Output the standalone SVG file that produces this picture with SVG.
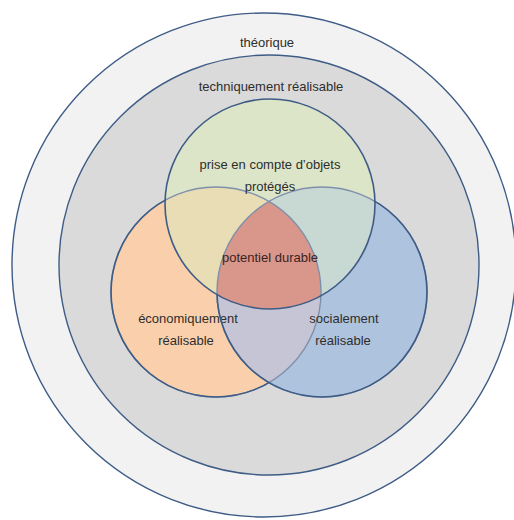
<svg xmlns="http://www.w3.org/2000/svg" width="514" height="520" viewBox="0 0 514 520">
<style>
.ring{stroke:#3e5c86;stroke-width:1.4}
.t{font-family:"Liberation Sans",Arial,sans-serif;font-size:13px;fill:#2e2e2e;text-anchor:middle}
.dk{fill:none;stroke:#3e5c86;stroke-width:1.6}
.fd{fill:none;stroke:#7e90aa;stroke-width:1.4}
</style>
<defs>
<clipPath id="cO"><circle cx="216" cy="292" r="105"/></clipPath>
<clipPath id="cB"><circle cx="322" cy="292" r="105"/></clipPath>
<clipPath id="cG"><circle cx="270" cy="204" r="105"/></clipPath>
<mask id="mO" maskUnits="userSpaceOnUse" x="0" y="0" width="514" height="520">
<rect width="514" height="520" fill="#fff"/>
<circle cx="322" cy="292" r="105" fill="#000"/>
<circle cx="270" cy="204" r="105" fill="#000"/>
</mask>
<mask id="mB" maskUnits="userSpaceOnUse" x="0" y="0" width="514" height="520">
<rect width="514" height="520" fill="#fff"/>
<circle cx="270" cy="204" r="105" fill="#000"/>
</mask>
</defs>
<rect width="514" height="520" fill="#fff"/>
<g id="theorique">
<circle class="ring" cx="264" cy="265" r="252" fill="#f2f2f2"/>
<text class="t" x="267" y="47">théorique</text>
</g>
<g id="techniquement">
<circle class="ring" cx="269" cy="265" r="210" fill="#dadada"/>
<text class="t" x="271" y="91">techniquement réalisable</text>
</g>
<g id="fills">
<circle cx="216" cy="292" r="105" fill="#f9d0ab"/>
<circle cx="322" cy="292" r="105" fill="#aec3de"/>
<circle cx="270" cy="204" r="105" fill="#dce5c8"/>
<circle cx="216" cy="292" r="105" fill="#c6c5d6" clip-path="url(#cB)"/>
<circle cx="216" cy="292" r="105" fill="#e8ddb5" clip-path="url(#cG)"/>
<circle cx="322" cy="292" r="105" fill="#c7d9d2" clip-path="url(#cG)"/>
<g clip-path="url(#cB)"><circle cx="216" cy="292" r="105" fill="#d9968a" clip-path="url(#cG)"/></g>
</g>
<g id="economiquement">
<circle class="fd" cx="216" cy="292" r="105"/>
<circle class="dk" cx="216" cy="292" r="105" mask="url(#mO)"/>
<text class="t" x="188" y="323">économiquement</text>
<text class="t" x="186" y="345">réalisable</text>
</g>
<g id="socialement">
<circle class="fd" cx="322" cy="292" r="105"/>
<circle class="dk" cx="322" cy="292" r="105" mask="url(#mB)"/>
<text class="t" x="344" y="323">socialement</text>
<text class="t" x="343" y="345">réalisable</text>
</g>
<g id="objets-proteges">
<circle class="dk" cx="270" cy="204" r="105"/>
<text class="t" x="270" y="169">prise en compte d’objets</text>
<text class="t" x="270" y="191">protégés</text>
</g>
<g id="potentiel-durable">
<text class="t" x="270" y="262" style="fill:#3a2424">potentiel durable</text>
</g>
</svg>
